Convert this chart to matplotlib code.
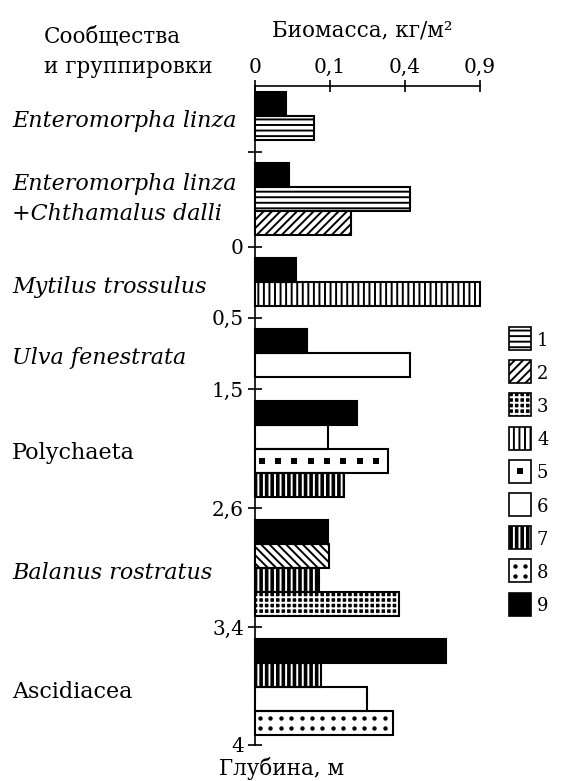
import numpy as np
import matplotlib
matplotlib.use("Agg")
import matplotlib.pyplot as plt
from matplotlib.patches import Rectangle
from matplotlib.transforms import blended_transform_factory

plt.rcParams['font.family'] = ['DejaVu Serif']
plt.rcParams['hatch.linewidth'] = 1.4

# сообщества и группировки, сверху вниз
groups = ["Enteromorpha linza", "Enteromorpha linza\n+Chthamalus dalli",
          "Mytilus trossulus", "Ulva fenestrata", "Polychaeta",
          "Balanus rostratus", "Ascidiacea"]
italic_groups = [True, True, True, True, False, True, False]

# номера групп организмов (1-9) в каждом сообществе
group_series = [[9, 1], [9, 1, 2], [9, 4], [9, 6],
                [9, 6, 5, 7], [9, 2, 7, 3], [9, 7, 6, 8]]
# биомасса, кг/м2
group_biomass = [[0.017, 0.062],
                 [0.020, 0.427, 0.164],
                 [0.030, 0.90],
                 [0.048, 0.427],
                 [0.185, 0.095, 0.314, 0.141],
                 [0.095, 0.097, 0.073, 0.369],
                 [0.648, 0.077, 0.223, 0.338]]

depth_labels = ["", "0", "0,5", "1,5", "2,6", "3,4", "4"]
x_ticks = [0, 0.1, 0.4, 0.9]
x_ticklabels = ["0", "0,1", "0,4", "0,9"]
legend_labels = ["1", "2", "3", "4", "5", "6", "7", "8", "9"]

# заливка / штриховка для каждой группы
STYLE = {
    1: dict(face="white", hatch="---", hc="black"),
    2: dict(face="white", hatch="////", hc="black"),
    3: dict(face="black", hatch="+++", hc="white"),
    4: dict(face="white", hatch="|||", hc="black"),
    5: dict(face="white", marks="squares"),
    6: dict(face="white"),
    7: dict(face="black", hatch="|||", hc="white"),
    8: dict(face="white", marks="dots"),
    9: dict(face="black"),
}
# у Balanus штриховка 2 в другую сторону
HATCH_OVERRIDE = {(5, 2): "\\\\\\\\"}

W, H = 566, 781
fig = plt.figure(figsize=(W / 100, H / 100), dpi=100)


def fx(px):
    return px / W


def fy(py):
    return 1 - py / H


ax = fig.add_axes([fx(255), fy(745), fx(480) - fx(255), fy(86) - fy(745)])
ax.set_xscale('function', functions=(lambda x: np.sqrt(np.clip(x, 0, None)), np.square))
ax.set_xlim(0, 0.9)

# раскладка по вертикали: высота столбика = 1
GAP = 0.965
TOP_MARGIN = 0.25
BOTTOM_MARGIN = 0.42
y = TOP_MARGIN
positions = []
gap_ticks = []
for i, ser in enumerate(group_series):
    positions.append([y + k + 0.5 for k in range(len(ser))])
    y += len(ser)
    if i < len(group_series) - 1:
        gap_ticks.append(y + GAP / 2)
        y += GAP
y_end = y + BOTTOM_MARGIN
ax.set_ylim(y_end, 0)
depth_ticks = gap_ticks + [y_end]


def marks_along(ax, yc, w, step, start, dy, size, marker):
    x0 = ax.transData.transform((0, yc))[0]
    x1, ypx = ax.transData.transform((w, yc))
    px = np.arange(x0 + start, x1 - start * 0.6, step)
    inv = ax.transData.inverted()
    xd = inv.transform(np.column_stack([px, np.full_like(px, ypx)]))[:, 0]
    for off in dy:
        ax.scatter(xd, np.full_like(xd, yc + off), marker=marker, s=size,
                   color="black", linewidths=0, zorder=4, clip_on=False)


for gi, (ser, vals, pos) in enumerate(zip(group_series, group_biomass, positions)):
    for sid, v, yc in zip(ser, vals, pos):
        st = STYLE[sid]
        hatch = HATCH_OVERRIDE.get((gi, sid), st.get("hatch"))
        ax.barh(yc, v, height=1, color=st["face"], edgecolor=st.get("hc", "black"),
                hatch=hatch, linewidth=0, clip_on=False, zorder=2)
        ax.barh(yc, v, height=1, fill=False, edgecolor="black", linewidth=1.5,
                clip_on=False, zorder=3)
        if st.get("marks") == "squares":
            marks_along(ax, yc, v, 16.3, 6.7, [0], 14, "s")
        elif st.get("marks") == "dots":
            marks_along(ax, yc, v, 10.4, 5.0, [-0.21, 0.21], 10, "o")

for s in ["right", "bottom"]:
    ax.spines[s].set_visible(False)
for s in ["top", "left"]:
    ax.spines[s].set_linewidth(1.2)

ax.xaxis.tick_top()
ax.set_xticks(x_ticks, x_ticklabels)
ax.set_yticks(depth_ticks, depth_labels)
ax.tick_params(axis="x", direction="inout", length=9, width=1.2, labelsize=14.5, pad=2)
ax.tick_params(axis="y", direction="inout", length=10, width=1.2, labelsize=14.5, pad=3)

# подписи сообществ
lab_tr = blended_transform_factory(fig.transFigure, ax.transData)
for name, it, pos in zip(groups, italic_groups, positions):
    yc = (pos[0] + pos[-1]) / 2
    if "\n" not in name:
        yc += 0.2
    ax.text(fx(12), yc, name, transform=lab_tr, ha="left", va="center",
            fontsize=16, style="italic" if it else "normal", linespacing=1.45)

fig.text(fx(44), fy(37), "Сообщества", fontsize=15.5, ha="left", va="center")
fig.text(fx(44), fy(67), "и группировки", fontsize=15.5, ha="left", va="center")
fig.text(fx(362), fy(30), "Биомасса, кг/м²", fontsize=15.5, ha="center", va="center")
fig.text(fx(282), fy(769), "Глубина, м", fontsize=15.5, ha="center", va="center")

# легенда
lax = fig.add_axes([0, 0, 1, 1], zorder=5)
lax.set_xlim(0, W)
lax.set_ylim(H, 0)
lax.axis("off")
LEG_X, LEG_TOP, LEG_STEP, BOX_W, BOX_H = 509, 327, 33.2, 22, 23
for i, lab in enumerate(legend_labels):
    sid = i + 1
    st = STYLE[sid]
    top = LEG_TOP + i * LEG_STEP
    lax.add_patch(Rectangle((LEG_X, top), BOX_W, BOX_H, facecolor=st["face"],
                            edgecolor=st.get("hc", "black"), hatch=st.get("hatch"),
                            linewidth=0))
    lax.add_patch(Rectangle((LEG_X, top), BOX_W, BOX_H, fill=False,
                            edgecolor="black", linewidth=1.2))
    cx, cy = LEG_X + BOX_W / 2, top + BOX_H / 2
    if st.get("marks") == "squares":
        lax.scatter([cx], [cy], marker="s", s=16, color="black", linewidths=0)
    elif st.get("marks") == "dots":
        lax.scatter([cx - 5, cx + 5, cx - 5, cx + 5], [cy - 5, cy - 5, cy + 5, cy + 5],
                    marker="o", s=10, color="black", linewidths=0)
    lax.text(LEG_X + BOX_W + 6, cy + 2, lab, fontsize=13, ha="left", va="center")

fig.savefig("out.png", dpi=100)
